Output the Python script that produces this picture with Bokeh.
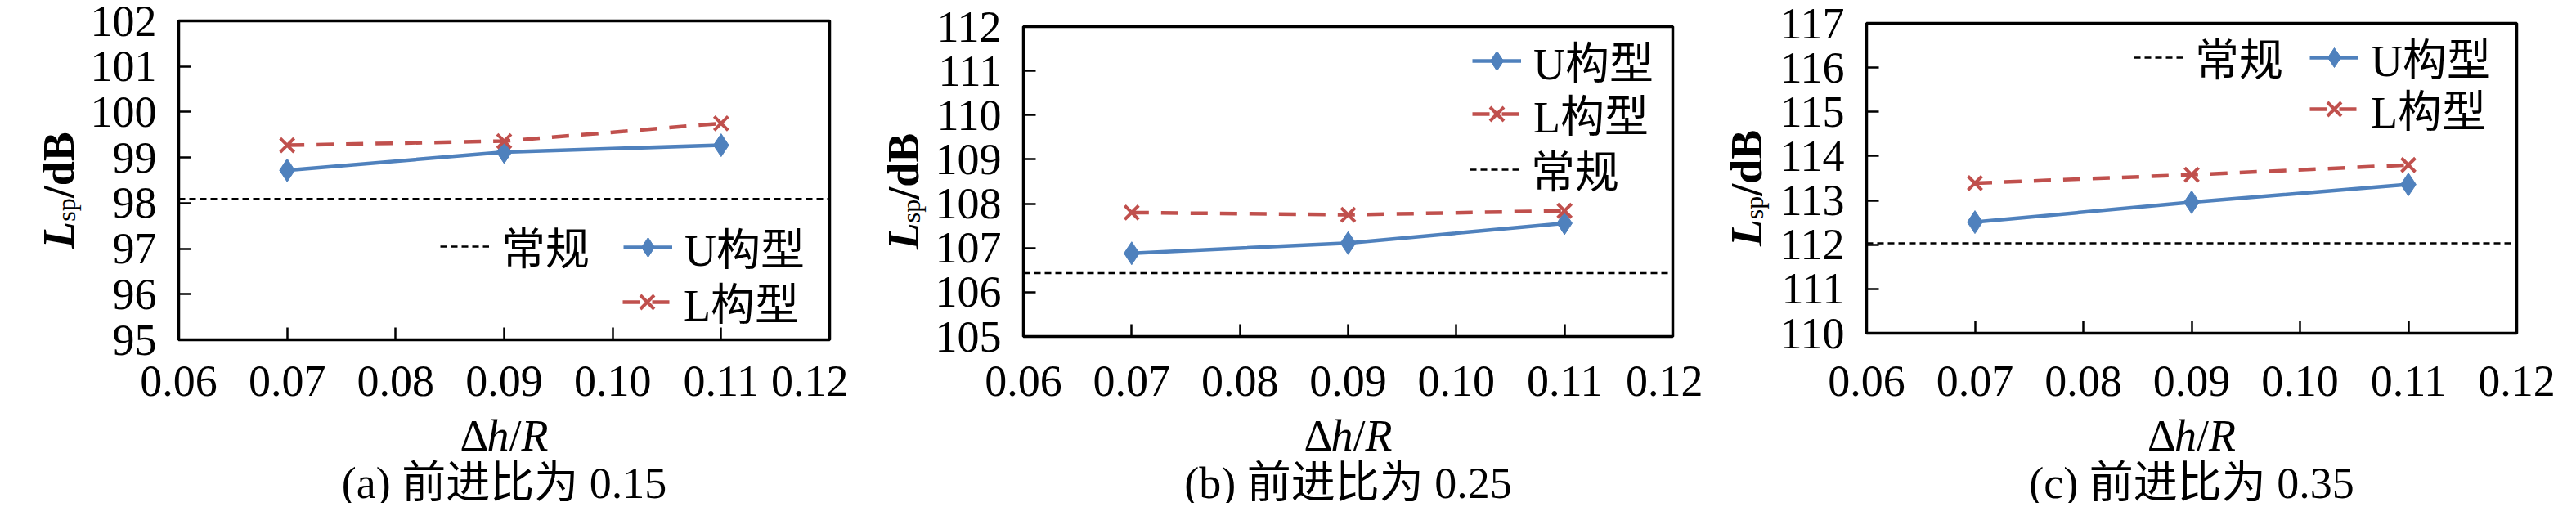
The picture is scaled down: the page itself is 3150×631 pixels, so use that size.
import math
from bokeh.plotting import figure
from bokeh.layouts import row
from bokeh.models import (Range1d, FixedTicker, PrintfTickFormatter, Label, Legend,
                          LegendItem, BoxAnnotation)
from bokeh.embed import file_html
from bokeh.resources import INLINE

# --- data ---
dh_r = [0.07, 0.09, 0.11]
x_extent = [0.06, 0.12]
x_ticks = [0.06, 0.07, 0.08, 0.09, 0.10, 0.11, 0.12]

u_a = [98.72, 99.12, 99.27]
l_a = [99.27, 99.36, 99.75]
conv_a = 98.09

u_b = [106.88, 107.11, 107.56]
l_b = [107.80, 107.75, 107.84]
conv_b = 106.43

u_c = [112.51, 112.96, 113.36]
l_c = [113.39, 113.58, 113.80]
conv_c = 112.03

y_ranges = [(95, 102), (105, 112), (110, 117)]
captions = ["(a) 前进比为 0.15", "(b) 前进比为 0.25", "(c) 前进比为 0.35"]
name_u, name_l, name_conv = "U构型", "L构型", "常规"

# --- styling ---
BLUE = "#4F81BD"
RED = "#C0504D"
FONT = "Liberation Serif"
CJK = "Liberation Serif, Noto Sans CJK SC"
FS = 54

PAGE_OFF = 8          # body margin
XLABEL_BASE = 540     # y of the x-axis title baseline (page offset included)
CAPTION_BASE = 598    # y of the caption baseline
TICK_LINE = 455       # y where the x tick labels are hung


def add_label(p, x, y, text, font=FONT, style="normal", size=FS,
              align="left", baseline="alphabetic", angle=0.0):
    p.add_layout(Label(x=x, y=y, text=text,
                       text_font=font, text_font_style=style,
                       text_font_size=f"{size}px", text_align=align,
                       text_baseline=baseline, angle=angle, text_color="black"))


def add_key(p, label, renderers, loc):
    lg = Legend(items=[LegendItem(label=label, renderers=renderers)],
                location=loc, orientation="vertical",
                glyph_width=60, glyph_height=64, label_height=64,
                label_standoff=15, padding=0, margin=0, spacing=0,
                border_line_color=None, background_fill_alpha=0,
                label_text_font=CJK, label_text_font_size=f"{FS}px",
                label_text_color="black")
    p.add_layout(lg)


def make_panel(u, l, conv, yr, caption, lay, keys):
    # the frame fills the whole canvas; the plot box sits inside it
    left, fw, right, top, fh, bottom = lay
    x0, x1 = x_extent
    y0, y1 = yr
    kx = (x1 - x0) / fw
    ky = (y1 - y0) / fh

    def dx(px):   # pixels from the plot box's left edge -> data x
        return x0 + px * kx

    def dy(py):   # pixels up from the plot box's bottom edge -> data y
        return y0 + py * ky

    p = figure(width=left + fw + right, height=top + fh + bottom, min_border=0,
               x_range=Range1d(dx(-left), dx(fw + right)),
               y_range=Range1d(dy(-bottom), dy(fh + top)),
               output_backend="svg", toolbar_location=None,
               background_fill_color="white", border_fill_color="white")
    p.grid.visible = False
    p.outline_line_color = None

    box_bottom = PAGE_OFF + top + fh

    p.xaxis.fixed_location = y0
    p.yaxis.fixed_location = x0
    p.xaxis.ticker = FixedTicker(ticks=x_ticks)
    p.xaxis.formatter = PrintfTickFormatter(format="%.2f")
    p.yaxis.ticker = FixedTicker(ticks=list(range(y0, y1 + 1)))
    p.xaxis.major_label_standoff = TICK_LINE - box_bottom
    p.yaxis.major_label_standoff = 27
    for ax in (p.xaxis[0], p.yaxis[0]):
        ax.axis_line_color = None
        ax.major_tick_in = 15
        ax.major_tick_out = 0
        ax.major_tick_line_width = 2.5
        ax.major_tick_line_color = "black"
        ax.minor_tick_line_color = None
        ax.major_label_text_font = FONT
        ax.major_label_text_font_size = f"{FS}px"
        ax.major_label_text_color = "black"

    p.add_layout(BoxAnnotation(left=x0, right=x1, bottom=y0, top=y1,
                               fill_alpha=0, line_color="black", line_width=3.5,
                               line_alpha=1.0, level="overlay"))

    conv_r = p.line(x_extent, [conv, conv], line_color="black",
                    line_width=2.5, line_dash="8 5")
    u_line = p.line(dh_r, u, line_color=BLUE, line_width=4.5)
    u_pts = p.scatter(dh_r, u, marker="diamond", size=28,
                      fill_color=BLUE, line_color=BLUE)
    l_line = p.line(dh_r, l, line_color=RED, line_width=4.5, line_dash="21 15")
    l_pts = p.scatter(dh_r, l, marker="x", size=24,
                      line_color=RED, line_width=4)

    for key, name, rends in (("conv", name_conv, [conv_r]),
                             ("u", name_u, [u_line, u_pts]),
                             ("l", name_l, [l_line, l_pts])):
        vx, vy = keys[key]
        add_key(p, name, rends, (vx + left, vy + bottom))

    # y-axis title: L_sp/dB, rotated
    ys = fh / 2 - 71.2 - 12
    rot = math.pi / 2
    add_label(p, dx(-147), dy(ys), "L", style="bold italic", angle=rot)
    add_label(p, dx(-138), dy(ys + 33.0), "sp", size=32, angle=rot)
    add_label(p, dx(-147), dy(ys + 61.4), "/dB", style="bold", angle=rot)

    # x-axis title: Δh/R
    xb = dy(box_bottom - XLABEL_BASE)
    xs = fw / 2 - 54
    add_label(p, dx(xs), xb, "Δ")
    add_label(p, dx(xs + 33.1), xb, "h", style="italic")
    add_label(p, dx(xs + 60.1), xb, "/")
    add_label(p, dx(xs + 75.1), xb, "R", style="italic")

    # caption
    add_label(p, dx(fw / 2), dy(box_bottom - CAPTION_BASE), caption,
              font=CJK, align="center")
    return p


# (left margin, box width, right margin, top margin, box height, bottom margin)
layouts = [
    (218, 796, 23, 25, 390, 200),
    (214, 794, 37, 32, 379, 204),
    (200, 795, 57, 28, 379, 208),
]
# legend item positions (left, bottom) relative to the plot box's lower-left corner
legend_pos = [
    {"conv": (320, 75), "u": (544, 74), "l": (543, 7)},
    {"u": (549, 298), "l": (549, 233), "conv": (546, 165)},
    {"conv": (327, 298), "u": (542, 298), "l": (542, 235)},
]

series = [(u_a, l_a, conv_a), (u_b, l_b, conv_b), (u_c, l_c, conv_c)]
panels = [make_panel(s[0], s[1], s[2], yr, cap, lay, keys)
          for s, yr, cap, lay, keys in zip(series, y_ranges, captions, layouts, legend_pos)]

layout = row(*panels, spacing=0)
open("out.html", "w").write(file_html(layout, INLINE))
